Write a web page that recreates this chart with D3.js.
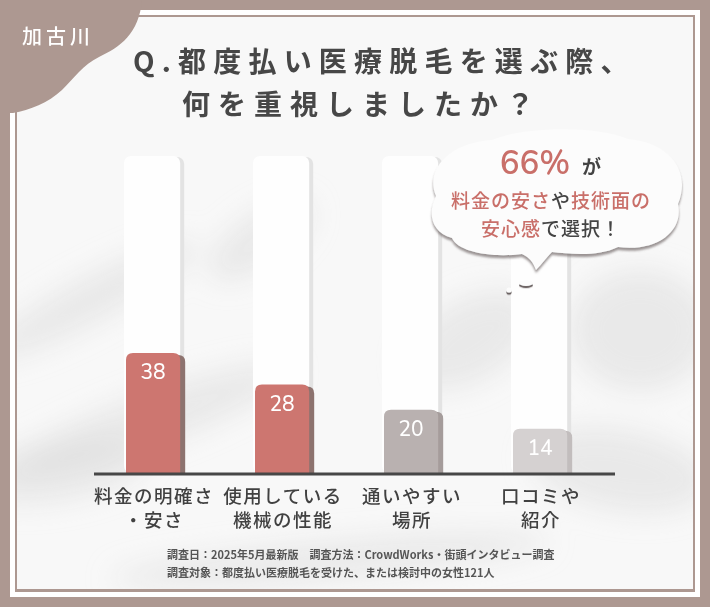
<!DOCTYPE html>
<html>
<head>
<meta charset="utf-8">
<script src="https://cdn.jsdelivr.net/npm/d3@7"></script>
<style>
  body { margin: 0; background: #ad9891; }
  svg { display: block; }
  .jp { font-family: "Noto Sans CJK JP", "Noto Sans", sans-serif; }
</style>
</head>
<body>
<div id="chart"></div>
<script>
// data
var labelTop = ["料金の明確さ", "使用している", "通いやすい", "口コミや"];
var labelBottom = ["・安さ", "機械の性能", "場所", "紹介"];
var values = [38, 28, 20, 14];
var maxValue = 100;
var areaName = "加古川";
var titleLines = ["Q.都度払い医療脱毛を選ぶ際、", "何を重視しましたか？"];
var notes = [
    "調査日：2025年5月最新版　調査方法：CrowdWorks・街頭インタビュー調査",
    "調査対象：都度払い医療脱毛を受けた、または検討中の女性121人"
];

var W = 710, H = 607;
var taupe = "#ad9891";
var barFill = ["#cd7670", "#cd7670", "#b9b1b0", "#d5d1d1"];
var barShade = ["#8d736f", "#8d736f", "#a59c9b", "#c2bdbd"];

var svg = d3.select("#chart").append("svg")
    .attr("width", W)
    .attr("height", H);

var defs = svg.append("defs");
defs.append("filter").attr("id", "blur")
    .attr("x", "-50%").attr("y", "-50%").attr("width", "200%").attr("height", "200%")
    .append("feGaussianBlur").attr("stdDeviation", 14);
defs.append("filter").attr("id", "bubbleShadow")
    .attr("x", "-20%").attr("y", "-20%").attr("width", "140%").attr("height", "150%")
    .append("feDropShadow")
    .attr("dx", 0).attr("dy", 3).attr("stdDeviation", 0.9)
    .attr("flood-color", "#5e5352").attr("flood-opacity", 0.6);
defs.append("filter").attr("id", "dotShadow")
    .attr("x", "-80%").attr("y", "-80%").attr("width", "260%").attr("height", "300%")
    .append("feDropShadow")
    .attr("dx", 0).attr("dy", 2.2).attr("stdDeviation", 0.7)
    .attr("flood-color", "#4a4141").attr("flood-opacity", 0.8);
defs.append("clipPath").attr("id", "panelClip")
    .append("rect").attr("x", 17).attr("y", 17).attr("width", 676).attr("height", 572);

// frame
svg.append("rect").attr("width", W).attr("height", H).attr("fill", taupe);
svg.append("rect").attr("x", 10).attr("y", 10).attr("width", 690).attr("height", 587).attr("fill", "#fff");
svg.append("rect").attr("x", 15).attr("y", 15).attr("width", 680).attr("height", 577).attr("fill", taupe);
svg.append("rect").attr("x", 17).attr("y", 17).attr("width", 676).attr("height", 572).attr("fill", "#f8f8f8");

// soft smoky background
var smoke = svg.append("g").attr("clip-path", "url(#panelClip)").attr("filter", "url(#blur)");
[[90, 300, 120, 22, -28], [150, 420, 150, 26, -20], [60, 470, 90, 30, -10],
 [640, 330, 70, 60, 0], [620, 470, 90, 40, 10], [330, 560, 220, 18, -5],
 [470, 340, 70, 40, -30], [260, 240, 60, 25, -35]].forEach(function(s) {
    smoke.append("ellipse")
        .attr("cx", s[0]).attr("cy", s[1]).attr("rx", s[2]).attr("ry", s[3])
        .attr("transform", "rotate(" + s[4] + "," + s[0] + "," + s[1] + ")")
        .attr("fill", "#dcdcdc").attr("opacity", 0.55);
});

// corner badge
svg.append("path")
    .attr("d", "M0,0 H142 C139,34 120,47 99,57 C83,65 74,78 62,90 C48,103 30,110 13,113 L0,113 Z")
    .attr("fill", taupe);
svg.append("text").attr("class", "jp")
    .attr("x", 22).attr("y", 44)
    .attr("fill", "#fff").attr("font-size", 20).attr("font-weight", 500)
    .attr("letter-spacing", 4)
    .text(areaName);

// title
svg.append("g").selectAll("text")
    .data(titleLines)
    .enter().append("text")
    .attr("class", "jp")
    .attr("x", function(d, i) { return i === 0 ? 133 : 182; })
    .attr("y", function(d, i) { return 72 + i * 43; })
    .attr("fill", "#474747").attr("font-size", 28).attr("font-weight", 700)
    .attr("letter-spacing", function(d, i) { return i === 0 ? 7.2 : 8; })
    .text(function(d) { return d; });

// scales
var x = d3.scaleBand()
    .domain(d3.range(values.length))
    .range([88.6, 604.6])
    .paddingInner(0.58)
    .paddingOuter(0.29);

var y = d3.scaleLinear()
    .domain([0, maxValue])
    .range([473, 157]);

var g = svg.append("g");

// background columns
g.selectAll(".track-shade")
    .data(values).enter().append("rect")
    .attr("class", "track-shade")
    .attr("x", function(d, i) { return x(i) + 4; })
    .attr("y", y(maxValue))
    .attr("width", x.bandwidth())
    .attr("height", y(0) - y(maxValue))
    .attr("rx", 7)
    .attr("fill", "#e3e3e3");
g.selectAll(".track")
    .data(values).enter().append("rect")
    .attr("class", "track")
    .attr("x", function(d, i) { return x(i) - 2; })
    .attr("y", y(maxValue) - 1)
    .attr("width", x.bandwidth() + 2)
    .attr("height", y(0) - y(maxValue) + 1)
    .attr("rx", 7)
    .attr("fill", "#fefefe");

// bars: shade + face, rounded top only
function topRounded(x0, y0, w, h, r) {
    return "M" + x0 + "," + (y0 + h) +
        "V" + (y0 + r) +
        "Q" + x0 + "," + y0 + " " + (x0 + r) + "," + y0 +
        "H" + (x0 + w - r) +
        "Q" + (x0 + w) + "," + y0 + " " + (x0 + w) + "," + (y0 + r) +
        "V" + (y0 + h) + "Z";
}

g.selectAll(".bar-shade")
    .data(values).enter().append("path")
    .attr("class", "bar-shade")
    .attr("d", function(d, i) {
        return topRounded(x(i) + 5, y(d) + 2, x.bandwidth(), y(0) - y(d) - 2, 7);
    })
    .attr("fill", function(d, i) { return barShade[i]; });

g.selectAll(".bar")
    .data(values).enter().append("path")
    .attr("class", "bar")
    .attr("d", function(d, i) {
        return topRounded(x(i), y(d), x.bandwidth(), y(0) - y(d), 7);
    })
    .attr("fill", function(d, i) { return barFill[i]; });

g.selectAll(".value")
    .data(values).enter().append("text")
    .attr("class", "value")
    .attr("x", function(d, i) { return x(i) + x.bandwidth() / 2; })
    .attr("y", function(d) { return y(d) + 26; })
    .attr("text-anchor", "middle")
    .attr("fill", "#fff")
    .attr("font-family", "Nunito, 'Noto Sans', sans-serif")
    .attr("font-size", 21).attr("font-weight", 500)
    .text(function(d) { return d; });

// baseline
g.append("line")
    .attr("x1", 94).attr("x2", 615)
    .attr("y1", y(0) + 1).attr("y2", y(0) + 1)
    .attr("stroke", "#474747").attr("stroke-width", 3);

// category labels, two lines each
[[labelTop, 503], [labelBottom, 527]].forEach(function(row) {
    g.selectAll(null)
        .data(values).enter().append("text")
        .attr("class", "jp")
        .attr("x", function(d, i) { return x(i) + x.bandwidth() / 2 + 1; })
        .attr("y", row[1])
        .attr("text-anchor", "middle")
        .attr("fill", "#414141").attr("font-size", 18.5).attr("font-weight", 500)
        .attr("letter-spacing", 1.5)
        .text(function(d, i) { return row[0][i]; });
});

// speech bubble
var bubble = svg.append("g");
bubble.append("path")
    .attr("d", "M436,196 C424,168 452,142 492,140 C525,126 598,126 628,139 " +
        "C668,142 692,170 678,204 C684,232 656,252 618,247 C598,257 570,254 552,252 " +
        "C546,258 542,264 536,270 C533,262 530,258 522,254 C492,258 458,252 452,238 " +
        "C430,232 428,212 436,196 Z")
    .attr("fill", "#fcfcfc")
    .attr("filter", "url(#bubbleShadow)");
bubble.append("ellipse").attr("cx", 526).attr("cy", 283).attr("rx", 7).attr("ry", 3)
    .attr("fill", "#fcfcfc").attr("filter", "url(#dotShadow)");
bubble.append("circle").attr("cx", 509).attr("cy", 290).attr("r", 2.6)
    .attr("fill", "#fcfcfc").attr("filter", "url(#dotShadow)");

var salmon = "#c96f69", dark = "#444";
bubble.append("text")
    .attr("x", 535).attr("y", 174)
    .attr("text-anchor", "middle")
    .attr("fill", salmon).attr("font-size", 33).attr("font-weight", 600)
    .attr("font-family", "Nunito, 'Noto Sans', sans-serif")
    .text("66%");
bubble.append("text").attr("class", "jp")
    .attr("x", 582).attr("y", 174)
    .attr("fill", dark).attr("font-size", 19).attr("font-weight", 700)
    .text("が");

var parts2 = [["料金の安さ", salmon], ["や", dark], ["技術面の", salmon]];
var parts3 = [["安心感", salmon], ["で選択！", dark]];
[[parts2, 208], [parts3, 236]].forEach(function(line) {
    var t = bubble.append("text").attr("class", "jp")
        .attr("x", 551).attr("y", line[1])
        .attr("text-anchor", "middle")
        .attr("font-size", 19).attr("font-weight", 500)
        .attr("letter-spacing", 1);
    t.selectAll("tspan").data(line[0]).enter().append("tspan")
        .attr("fill", function(d) { return d[1]; })
        .text(function(d) { return d[0]; });
});

// notes
svg.append("g").selectAll("text")
    .data(notes).enter().append("text")
    .attr("class", "jp")
    .attr("x", 167)
    .attr("y", function(d, i) { return 559 + i * 18; })
    .attr("fill", "#555").attr("font-size", 11).attr("font-weight", 700)
    .text(function(d) { return d; });
</script>
</body>
</html>
